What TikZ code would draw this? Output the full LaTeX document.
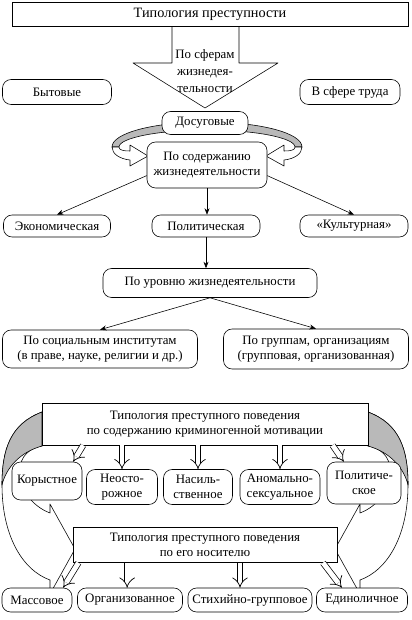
\documentclass[tikz,border=0pt]{standalone}
\usepackage{fontspec}
\setmainfont{Liberation Serif}
\usetikzlibrary{arrows.meta, positioning}

\begin{document}
\begin{tikzpicture}[
    x=0.7pt, y=-0.7pt,
    font=\fontsize{9}{10.5}\selectfont, >={Stealth[length=4.5pt, width=3.5pt]},
    rbox/.style 2 args={draw, rounded corners=6pt, fill=white, align=center,
                inner sep=1pt, minimum width=#1*0.7pt, minimum height=#2*0.7pt},
    sbox/.style 2 args={draw, fill=white, align=center,
                inner sep=1pt, minimum width=#1*0.7pt, minimum height=#2*0.7pt},
    ln/.style={->, thin},
    hol/.style={line width=0.5pt, double, double distance=3.4pt, -{Implies[scale=1.2]}},
    band/.style={draw, fill=white, line join=round},
    backside/.style={draw, fill=gray!55, line join=round},
  ]
    \fill[white] (0,0) rectangle (412,620);
    \useasboundingbox (0,0) rectangle (412,620);

    % Big arrow under the title
    \draw[band] (172,26) -- (172,63) -- (133,63) -- (205,108) -- (278,63)
      -- (239,63) -- (239,26) -- cycle;
    \node[align=center] (sfer) at (205,71) {По сферам\\[1.5pt]жизнедея-\\[1.5pt]тельности};
    \node[sbox={396}{24}, font=\fontsize{10}{12}\selectfont] (typ) at (210,14) {Типология преступности};

    % Ring round the second box
    \draw[backside] (112,147) .. controls (112,133) and (154,122) .. (207,122)
      .. controls (260,122) and (302,133) .. (302,147) -- (295,147)
      .. controls (295,138) and (256,130) .. (207,130)
      .. controls (158,130) and (119,138) .. (119,147) -- cycle;
    \foreach \s/\o in {1/0, -1/414}
      \draw[band] ({\o+\s*112},147) .. controls ({\o+\s*112},154) and ({\o+\s*120},159) .. ({\o+\s*130},160)
        -- ({\o+\s*130},166) -- ({\o+\s*148},156) -- ({\o+\s*130},145) -- ({\o+\s*130},151)
        .. controls ({\o+\s*123},151) and ({\o+\s*119},150) .. ({\o+\s*119},147) -- cycle;

    \node[rbox={109}{25}] (byt) at (57,92) {Бытовые};
    \node[rbox={100}{25}] (trud) at (350,92) {В сфере труда};
    \node[rbox={86}{23}] (dos) at (205,123) {Досуговые};
    \node[rbox={120}{46}] (sod) at (207,165) {По содержанию\\жизнедеятельности};

    % Third row
    \node[rbox={107}{22}] (eco) at (57,226) {Экономическая};
    \node[rbox={108}{22}] (pol) at (206,226) {Политическая};
    \node[rbox={108}{22}] (cul) at (354,226) {«Культурная»};
    \node[rbox={214}{29}] (urv) at (210,283) {По уровню жизнедеятельности};
    \node[rbox={195}{38}] (soc) at (100,349) {По социальным институтам\\(в праве, науке, религии и др.)};
    \node[rbox={185}{40}] (grp) at (316,349) {По группам, организациям\\(групповая, организованная)};

    \draw[ln] (sod.190) -- (eco.north);
    \draw[ln] (sod.south) -- (sod.south |- pol.north);
    \draw[ln] (sod.-10) -- (cul.north);
    \draw[ln] (pol.south) -- (pol.south |- urv.north);
    \draw[ln] (urv.south) -- (soc.north);
    \draw[ln] (urv.south) -- (grp.north);

    % Lower part: two big curved arrows
    \foreach \s/\o in {1/0, -1/410} {
      \draw[band] ({\o+\s*42},412) .. controls ({\o+\s*10},424) and ({\o+\s*2},450) .. ({\o+\s*2},485)
        .. controls ({\o+\s*2},535) and ({\o+\s*22},570) .. ({\o+\s*50},580)
        -- ({\o+\s*50},594) -- ({\o+\s*75},549) -- ({\o+\s*50},504) -- ({\o+\s*50},513)
        .. controls ({\o+\s*32},506) and ({\o+\s*20},490) .. ({\o+\s*20},470)
        .. controls ({\o+\s*20},456) and ({\o+\s*30},448) .. ({\o+\s*42},446) -- cycle;
      \draw[backside] ({\o+\s*42},412) .. controls ({\o+\s*10},424) and ({\o+\s*2},450) .. ({\o+\s*2},485)
        .. controls ({\o+\s*6},468) and ({\o+\s*20},452) .. ({\o+\s*42},446) -- cycle;
    }

    \node[sbox={326}{42}] (mot) at (205,424) {Типология преступного поведения\\по содержанию криминогенной мотивации};
    \node[rbox={70}{38}] (kor) at (47,481) {Корыстное};
    \node[rbox={71}{35}] (neo) at (122,487) {Неосто-\\рожное};
    \node[rbox={69}{35}] (nas) at (198,487) {Насиль-\\ственное};
    \node[rbox={80}{35}] (ano) at (280,487) {Аномально-\\сексуальное};
    \node[rbox={74}{42}] (plc) at (364,483) {Политиче-\\ское};

    \draw[hol] ([xshift=29pt]mot.south west) -- ([xshift=43pt]kor.north west);
    \draw[hol] (neo.north |- mot.south) -- (neo.north);
    \draw[hol] (nas.north |- mot.south) -- (nas.north);
    \draw[hol] (ano.north |- mot.south) -- (ano.north);
    \draw[hol] ([xshift=-25pt]mot.south east) -- ([xshift=12pt]plc.north west);

    \node[sbox={264}{35}] (nos) at (205,545) {Типология преступного поведения\\по его носителю};
    \node[rbox={70}{24}] (mas) at (37,600) {Массовое};
    \node[rbox={105}{24}] (org) at (130,600) {Организованное};
    \node[rbox={124}{24}] (sti) at (250,600) {Стихийно-групповое};
    \node[rbox={91}{24}] (edi) at (362,600) {Единоличное};

    \draw[hol] ([xshift=4pt]nos.south west) -- ([xshift=43pt]mas.north west);
    \draw[hol] ([xshift=-2pt]org.north |- nos.south) -- ([xshift=-2pt]org.north);
    \draw[hol] ([xshift=-7pt]sti.north |- nos.south) -- ([xshift=-7pt]sti.north);
    \draw[hol] ([xshift=-10pt]nos.south east) -- ([xshift=18pt]edi.north west);
  \end{tikzpicture}
\end{document}
